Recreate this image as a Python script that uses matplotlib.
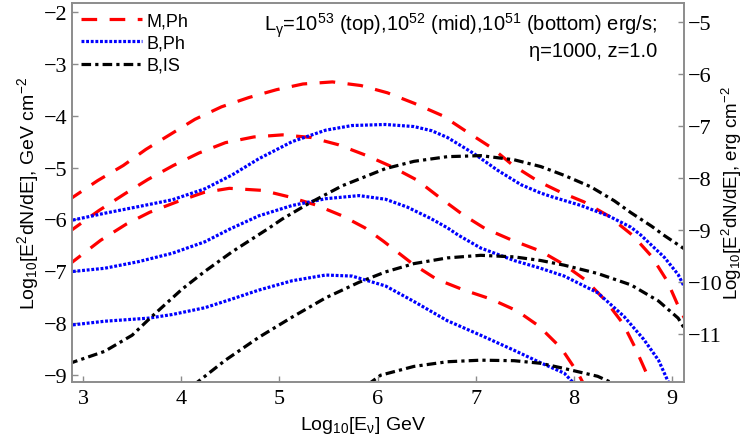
import matplotlib
matplotlib.use("Agg")
import matplotlib.pyplot as plt

plt.rcParams['mathtext.fontset'] = 'custom'
plt.rcParams['mathtext.rm'] = 'Liberation Sans'
plt.rcParams['mathtext.it'] = 'Liberation Sans:italic'
plt.rcParams['mathtext.bf'] = 'Liberation Sans:bold'

# ---- data ----
red_top_x = [2.85, 3.15, 3.41, 3.64, 3.89, 4.14, 4.41, 4.69, 4.97, 5.24, 5.54, 5.83, 6.10, 6.37,
             6.66, 6.90, 7.17, 7.38, 7.64, 7.87, 8.10, 8.35, 8.60, 8.79, 8.95, 9.05, 9.15]
red_top_y = [-5.63, -5.25, -4.96, -4.65, -4.36, -4.07, -3.83, -3.65, -3.50, -3.39, -3.35, -3.42, -3.56, -3.76,
             -4.00, -4.30, -4.63, -4.96, -5.27, -5.48, -5.66, -5.93, -6.31, -6.71, -7.19, -7.62, -8.00]

red_mid_x = [2.85, 3.16, 3.43, 3.66, 3.92, 4.18, 4.45, 4.74, 5.03, 5.32, 5.60, 5.89, 6.14, 6.40,
             6.62, 6.87, 7.09, 7.37, 7.66, 7.89, 8.12, 8.32, 8.50, 8.62, 8.74, 8.80]
red_mid_y = [-6.25, -5.83, -5.50, -5.23, -4.96, -4.72, -4.52, -4.41, -4.37, -4.42, -4.56, -4.77, -4.98, -5.24,
             -5.56, -5.91, -6.17, -6.40, -6.61, -6.86, -7.17, -7.56, -8.01, -8.46, -8.97, -9.25]

red_bot_x = [2.85, 3.18, 3.44, 3.68, 3.97, 4.23, 4.49, 4.83, 5.09, 5.37, 5.64, 5.87, 6.06, 6.36,
             6.60, 6.88, 7.15, 7.42, 7.64, 7.87, 8.04, 8.12]
red_bot_y = [-6.88, -6.40, -6.09, -5.86, -5.65, -5.48, -5.40, -5.44, -5.56, -5.72, -5.93, -6.16, -6.42, -6.86,
             -7.15, -7.36, -7.53, -7.76, -8.05, -8.48, -8.96, -9.25]

blue_top_x = [2.85, 3.22, 3.57, 3.91, 4.24, 4.52, 4.79, 5.13, 5.47, 5.74, 6.08, 6.37, 6.55, 6.71, 6.98,
              7.22, 7.46, 7.66, 7.77, 8.07, 8.35, 8.58, 8.68, 8.92, 9.06, 9.15]
blue_top_y = [-6.03, -5.88, -5.75, -5.62, -5.41, -5.14, -4.83, -4.50, -4.28, -4.19, -4.17, -4.21, -4.29, -4.42, -4.73,
              -5.05, -5.33, -5.49, -5.56, -5.73, -5.93, -6.15, -6.30, -6.73, -7.06, -7.40]

blue_mid_x = [2.85, 3.22, 3.57, 3.91, 4.24, 4.50, 4.79, 5.13, 5.47, 5.81, 6.08, 6.30, 6.54, 6.71,
              6.82, 7.05, 7.39, 7.66, 7.90, 8.24, 8.51, 8.71, 8.86, 8.96, 9.00]
blue_mid_y = [-7.01, -6.94, -6.81, -6.65, -6.43, -6.18, -5.93, -5.73, -5.60, -5.54, -5.61, -5.76, -5.98, -6.16,
              -6.30, -6.55, -6.79, -6.94, -7.09, -7.41, -7.87, -8.31, -8.71, -9.13, -9.30]

blue_bot_x = [2.85, 3.22, 3.67, 3.91, 4.24, 4.52, 4.79, 5.13, 5.47, 5.74, 6.08, 6.37, 6.71, 7.05,
              7.39, 7.66, 7.90, 8.02]
blue_bot_y = [-8.04, -7.96, -7.90, -7.83, -7.70, -7.53, -7.36, -7.18, -7.07, -7.09, -7.28, -7.58, -7.95, -8.23,
              -8.52, -8.76, -8.96, -9.20]

black_top_x = [2.85, 3.22, 3.50, 3.70, 4.01, 4.24, 4.52, 4.89, 5.03, 5.30, 5.64, 6.08, 6.37, 6.71, 7.05,
               7.39, 7.66, 7.90, 8.17, 8.41, 8.58, 8.79, 8.92, 9.15]
black_top_y = [-8.78, -8.54, -8.23, -7.87, -7.34, -7.00, -6.62, -6.17, -5.99, -5.69, -5.35, -5.02, -4.88, -4.79, -4.77,
               -4.85, -4.98, -5.15, -5.37, -5.64, -5.87, -6.13, -6.31, -6.60]

black_mid_x = [4.12, 4.45, 4.79, 5.13, 5.47, 5.81, 6.08, 6.37, 6.71, 7.05, 7.39, 7.66, 7.90, 8.24,
               8.58, 8.86, 9.06, 9.15]
black_mid_y = [-9.20, -8.71, -8.27, -7.88, -7.51, -7.21, -7.01, -6.85, -6.74, -6.69, -6.72, -6.79, -6.88, -7.04,
               -7.26, -7.57, -7.90, -8.18]

black_bot_x = [5.90, 6.03, 6.37, 6.71, 7.05, 7.39, 7.66, 7.90, 8.24, 8.45]
black_bot_y = [-9.18, -9.00, -8.83, -8.74, -8.71, -8.72, -8.77, -8.87, -9.02, -9.20]

legend_labels = ['M,Ph', 'B,Ph', 'B,IS']
x_ticks = [3, 4, 5, 6, 7, 8, 9]
y_ticks_left = [-9, -8, -7, -6, -5, -4, -3, -2]
y_ticks_right = [-11, -10, -9, -8, -7, -6, -5]
gev_to_erg = -2.795  # log10(1.602e-3)

# ---- figure ----
fig = plt.figure(figsize=(7.47, 4.39), dpi=100)
ax = fig.add_axes([0.0964, 0.1276, 0.8193, 0.8633])
xlo, xhi = 2.888, 9.12
ylo, yhi = -9.13, -1.83

red_style = dict(color='#ff0000', lw=2.3, dashes=(4.9, 3.9), dash_capstyle='butt')
blue_style = dict(color='#0000ff', lw=2.3, dashes=(0.9, 0.55), dash_capstyle='butt')
black_style = dict(color='black', lw=2.3, dashes=(3.0, 1.3, 1.0, 1.3), dash_capstyle='butt')

l1, = ax.plot(red_top_x, red_top_y, **red_style)
ax.plot(red_mid_x, red_mid_y, **red_style)
ax.plot(red_bot_x, red_bot_y, **red_style)
l2, = ax.plot(blue_top_x, blue_top_y, **blue_style)
ax.plot(blue_mid_x, blue_mid_y, **blue_style)
ax.plot(blue_bot_x, blue_bot_y, **blue_style)
l3, = ax.plot(black_top_x, black_top_y, **black_style)
ax.plot(black_mid_x, black_mid_y, **black_style)
ax.plot(black_bot_x, black_bot_y, **black_style)

ax.set_xlim(xlo, xhi)
ax.set_ylim(ylo, yhi)

serif = 'Liberation Serif'
sans = 'Liberation Sans'
spine_col = '#8c8c8c'

ax.set_xticks(x_ticks)
ax.set_xticklabels([str(v) for v in x_ticks], fontfamily=serif, fontsize=16)
ax.set_yticks(y_ticks_left)
ax.set_yticklabels(['\u2212%d' % abs(v) for v in y_ticks_left], fontfamily=serif, fontsize=16)
ax.tick_params(axis='both', direction='in', length=4, width=1, color=spine_col)
ax.tick_params(axis='x', pad=5)
ax.tick_params(axis='y', pad=3)
ax.tick_params(top=False, right=False)
for s in ax.spines.values():
    s.set_color(spine_col)
    s.set_linewidth(1.2)

ax2 = ax.twinx()
ax2.set_ylim(ylo + gev_to_erg, yhi + gev_to_erg)
ax2.set_yticks(y_ticks_right)
ax2.set_yticklabels(['\u2212%d' % abs(v) for v in y_ticks_right], fontfamily=serif, fontsize=16)
ax2.tick_params(axis='y', direction='in', length=4, width=1, color=spine_col, pad=3)
for s in ax2.spines.values():
    s.set_color(spine_col)
    s.set_linewidth(1.2)

ax.set_xlabel(r'Log$_{10}$[E$_{\mathrm{ν}}$] GeV', fontfamily=sans, fontsize=14)
ax.xaxis.set_label_coords(0.475, -0.085)
ax.set_ylabel(r'Log$_{10}$[E$^{2}$dN/dE], GeV cm$^{-2}$', fontfamily=sans, fontsize=14, labelpad=2)
ax2.set_ylabel(r'Log$_{10}$[E$^{2}$dN/dE], erg cm$^{-2}$', fontfamily=sans, fontsize=13.5)
ax2.yaxis.set_label_coords(1.058, 0.5)

leg = ax.legend([l1, l2, l3], legend_labels, loc='upper left', frameon=False,
                prop={'family': sans, 'size': 13}, handlelength=3.4, handletextpad=0.25,
                labelspacing=0.3, borderaxespad=0.3, borderpad=0.2)

ax.text(0.956, 0.942, r'L$_{\mathrm{γ}}$=10$^{53}$ (top),10$^{52}$ (mid),10$^{51}$ (bottom) erg/s;',
        transform=ax.transAxes, ha='right', va='center', fontfamily=sans, fontsize=14.5)
ax.text(0.956, 0.874, 'η=1000, z=1.0', transform=ax.transAxes, ha='right', va='center',
        fontfamily=sans, fontsize=14.5)

fig.savefig('out.png', dpi=100)
